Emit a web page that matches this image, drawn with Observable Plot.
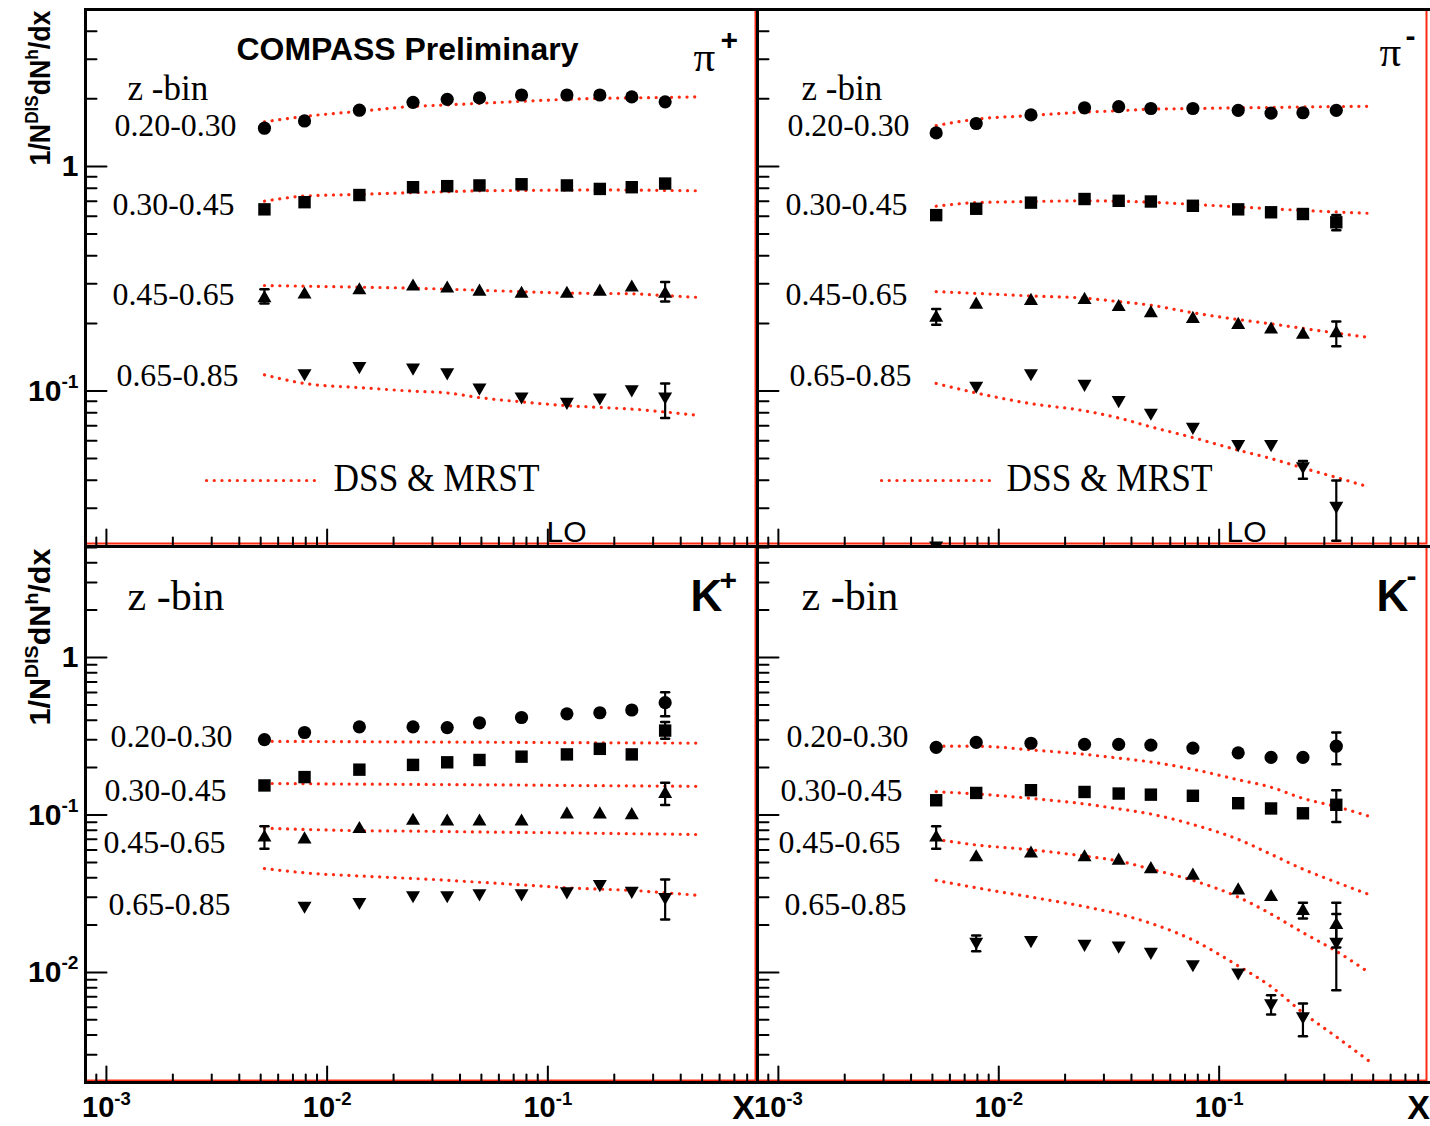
<!DOCTYPE html>
<html>
<head>
<meta charset="utf-8">
<script src="https://cdn.jsdelivr.net/npm/d3@7"></script>
<script src="https://cdn.jsdelivr.net/npm/@observablehq/plot@0.6"></script>
<style>
  html, body { margin: 0; padding: 0; background: #fff; }
  #chart { position: relative; width: 1430px; height: 1126px; overflow: hidden; background: #fff; }
  #chart > svg { position: absolute; }
</style>
</head>
<body>
<div id="chart"></div>
<script>
// ---------------- data ----------------
const xBins = [0.0052, 0.0079, 0.014, 0.0245, 0.035, 0.049, 0.076, 0.122, 0.172, 0.24, 0.34];
const curveX = [0.0052, 0.0079, 0.014, 0.0245, 0.035, 0.049, 0.076, 0.122, 0.172, 0.24, 0.34, 0.48];
const zBins = ["0.20-0.30", "0.30-0.45", "0.45-0.65", "0.65-0.85"];
const xTickValues = [0.001, 0.01, 0.1];

// pi+
const piPlusVals = [
  [1.48, 1.594, 1.78, 1.93, 1.99, 2.02, 2.08, 2.08, 2.08, 2.04, 1.94],
  [0.644, 0.693, 0.746, 0.808, 0.817, 0.823, 0.833, 0.823, 0.794, 0.808, 0.839],
  [0.259, 0.269, 0.281, 0.292, 0.286, 0.277, 0.271, 0.271, 0.277, 0.289, 0.271],
  [null, 0.120, 0.129, 0.127, 0.121, 0.1035, 0.0945, 0.0894, 0.0935, 0.1017, 0.0945]
];
const piPlusDSS = [
  [1.58, 1.67, 1.76, 1.85, 1.88, 1.91, 1.95, 1.99, 2.01, 2.02, 2.03, 2.04],
  [0.70, 0.738, 0.751, 0.765, 0.772, 0.779, 0.782, 0.785, 0.786, 0.785, 0.782, 0.779],
  [0.295, 0.293, 0.290, 0.287, 0.284, 0.281, 0.277, 0.273, 0.272, 0.271, 0.266, 0.261],
  [0.118, 0.108, 0.1035, 0.0998, 0.098, 0.0934, 0.0894, 0.086, 0.0845, 0.083, 0.0806, 0.0778]
];
const piPlusErr = [[2, 0, 0.284, 0.245], [2, 10, 0.306, 0.25], [3, 10, 0.108, 0.0757]];

// pi-
const piMinusVals = [
  [1.41, 1.553, 1.696, 1.825, 1.846, 1.812, 1.812, 1.778, 1.727, 1.734, 1.778],
  [0.607, 0.648, 0.690, 0.716, 0.703, 0.698, 0.668, 0.644, 0.625, 0.614, 0.564],
  [0.212, 0.2425, 0.252, 0.2545, 0.2365, 0.222, 0.2095, 0.197, 0.1877, 0.178, 0.181],
  [0.0205, 0.1055, 0.12, 0.1075, 0.091, 0.080, 0.0692, 0.058, 0.058, 0.0462, 0.0308]
];
const piMinusDSS = [
  [1.52, 1.623, 1.685, 1.747, 1.77, 1.80, 1.81, 1.825, 1.83, 1.84, 1.848, 1.853],
  [0.665, 0.690, 0.698, 0.703, 0.700, 0.693, 0.678, 0.66, 0.648, 0.637, 0.627, 0.618],
  [0.277, 0.272, 0.265, 0.259, 0.25, 0.241, 0.223, 0.208, 0.199, 0.19, 0.181, 0.173],
  [0.108, 0.098, 0.0878, 0.0816, 0.0758, 0.0692, 0.062, 0.0545, 0.050, 0.0454, 0.0412, 0.0373]
];
const piMinusErr = [[1, 10, 0.607, 0.52], [2, 0, 0.232, 0.197], [2, 10, 0.204, 0.158], [3, 9, 0.0488, 0.0406], [3, 10, 0.0399, 0.0215]];

// K+
const kPlusVals = [
  [0.301, 0.334, 0.363, 0.363, 0.359, 0.385, 0.416, 0.439, 0.446, 0.464, 0.517],
  [0.154, 0.174, 0.194, 0.208, 0.216, 0.2235, 0.2346, 0.2425, 0.263, 0.2425, 0.3435],
  [0.0719, 0.070, 0.0815, 0.0919, 0.0909, 0.0909, 0.0909, 0.1008, 0.1008, 0.0997, 0.136],
  [null, 0.02654, 0.028, 0.0309, 0.0309, 0.0318, 0.0318, 0.0327, 0.0364, 0.033, 0.0301]
];
const kPlusDSS = [
  [0.2935, 0.293, 0.292, 0.291, 0.2905, 0.29, 0.289, 0.288, 0.2875, 0.287, 0.2865, 0.286],
  [0.1585, 0.158, 0.157, 0.1565, 0.156, 0.1555, 0.155, 0.154, 0.1535, 0.153, 0.1525, 0.152],
  [0.0824, 0.081, 0.0795, 0.079, 0.0785, 0.078, 0.0775, 0.077, 0.0765, 0.076, 0.0757, 0.0751],
  [0.0457, 0.0429, 0.041, 0.0395, 0.0385, 0.0374, 0.036, 0.0345, 0.0338, 0.0332, 0.032, 0.0309]
];
const kPlusErr = [[0, 10, 0.602, 0.423], [1, 10, 0.39, 0.305], [2, 0, 0.0847, 0.061], [2, 10, 0.16, 0.1156], [3, 10, 0.0389, 0.0217]];

// K-
const kMinusVals = [
  [0.269, 0.289, 0.2855, 0.281, 0.281, 0.278, 0.266, 0.248, 0.232, 0.232, 0.2733],
  [0.124, 0.138, 0.1437, 0.140, 0.1368, 0.1346, 0.1324, 0.1188, 0.110, 0.1025, 0.116],
  [0.0719, 0.0539, 0.0569, 0.0539, 0.0513, 0.0453, 0.0412, 0.0332, 0.0301, 0.0246, 0.0200],
  [null, 0.01564, 0.01606, 0.0152, 0.0148, 0.0135, 0.01127, 0.0100, 0.00636, 0.00526, 0.01564]
];
const kMinusDSS = [
  [0.2733, 0.2733, 0.259, 0.2425, 0.2296, 0.217, 0.195, 0.1674, 0.150, 0.1274, 0.113, 0.098],
  [0.1406, 0.136, 0.1274, 0.1175, 0.1094, 0.1014, 0.087, 0.070, 0.0563, 0.0453, 0.0374, 0.0312],
  [0.070, 0.0645, 0.0601, 0.0548, 0.051, 0.0453, 0.0384, 0.0301, 0.0235, 0.0179, 0.01364, 0.00995],
  [0.0384, 0.0345, 0.0301, 0.0262, 0.0235, 0.0205, 0.01606, 0.011, 0.00813, 0.00555, 0.0039, 0.00273]
];
const kMinusErr = [[0, 10, 0.334, 0.21], [1, 10, 0.1437, 0.0904], [2, 0, 0.0847, 0.061], [2, 9, 0.0277, 0.022],
  [2, 10, 0.0277, 0.0144], [3, 1, 0.01715, 0.01364], [3, 8, 0.00717, 0.0054], [3, 9, 0.00636, 0.00394], [3, 10, 0.0235, 0.0077]];

// ---------------- helpers ----------------
const RED = "#ff2a12";
const SERIF = "'Liberation Serif', 'Times New Roman', Times, serif";
const SANS = "'Liberation Sans', Arial, Helvetica, sans-serif";
const DOTS = "0.1 7.6";

const seg = { draw(ctx, l) { ctx.moveTo(0, 0); ctx.lineTo(0, -l); } };
const SQ3 = Math.sqrt(3);
const triDown = { draw(ctx, size) {
  const y = -Math.sqrt(size / (SQ3 * 3));
  ctx.moveTo(0, -y * 2); ctx.lineTo(-SQ3 * y, y); ctx.lineTo(SQ3 * y, y); ctx.closePath();
} };
const symbols = ["circle", "square", "triangle", triDown];
const radii = [6.6, 7.0, 5.2, 5.2];

function pointTable(vals) {
  const out = [];
  vals.forEach((arr, z) => arr.forEach((v, i) => { if (v != null) out.push({x: xBins[i], y: v, z}); }));
  return out;
}
function curveTable(vals) {
  const out = [];
  vals.forEach((arr, z) => arr.forEach((v, i) => out.push({x: curveX[i], y: v, z})));
  return out;
}
function errTable(errs) {
  return errs.map(([z, i, hi, lo]) => ({x: xBins[i], lo, hi, z}));
}
function decadeTicks(lo, hi, ks) {
  const out = [];
  for (let e = -5; e <= 1; e++) for (const k of ks) {
    const v = +(k * Math.pow(10, e)).toPrecision(6);
    if (v >= lo && v <= hi) out.push(v);
  }
  return out;
}
const fmt = d => { const e = Math.round(Math.log10(d)); return e === 0 ? "1" : `10^${e}`; };

const xDomain = [0.000804, 0.891];
const cols = [
  {left: 0, width: 757, mL: 85, mR: 0},
  {left: 757, width: 673, mL: 0, mR: 2}
];
const rows = [
  {top: 0, height: 545, mT: 9, mB: 0, yDomain: [0.0205, 5.0], yMajor: [0.1, 1]},
  {top: 545, height: 581, mT: 1, mB: 44, yDomain: [0.002, 5.07], yMajor: [0.01, 0.1, 1]}
];

const panels = [
  {row: 0, col: 0, vals: piPlusVals, dss: piPlusDSS, err: piPlusErr, base: "π", sign: "+", baseFont: SERIF, baseSize: 43, baseWeight: "normal",
   baseDx: -64, baseDy: 61, signDx: -37, signDy: 31, zOff: [29, 27, 27, 31], zDy: [116, 195, 285, 366]},
  {row: 0, col: 1, vals: piMinusVals, dss: piMinusDSS, err: piMinusErr, base: "π", sign: "-", baseFont: SERIF, baseSize: 43, baseWeight: "normal",
   baseDx: -49, baseDy: 56, signDx: -23, signDy: 27, zOff: [30, 28, 28, 32], zDy: [116, 195, 285, 366]},
  {row: 1, col: 0, vals: kPlusVals, dss: kPlusDSS, err: kPlusErr, base: "K", sign: "+", baseFont: SANS, baseSize: 44, baseWeight: "bold",
   baseDx: -67, baseDy: 64, signDx: -38, signDy: 34, zOff: [25, 19, 18, 23], zDy: [190, 244, 296, 358]},
  {row: 1, col: 1, vals: kMinusVals, dss: kMinusDSS, err: kMinusErr, base: "K", sign: "-", baseFont: SANS, baseSize: 44, baseWeight: "bold",
   baseDx: -52, baseDy: 64, signDx: -22, signDy: 30, zOff: [29, 23, 21, 27], zDy: [190, 244, 296, 358]}
];

function fitAndSup(svg, widths) {
  svg.querySelectorAll("text").forEach(t => {
    if (t.querySelector("tspan")) return;
    const s = t.textContent;
    const w = widths[s];
    if (s.includes("^")) {
      const fs = parseFloat(getComputedStyle(t).fontSize) || 16;
      const re = /\^\{([^}]*)\}|\^(-?\d+)|([^^]+)/g;
      const parts = []; let m;
      while ((m = re.exec(s))) parts.push(m[3] != null ? {t: m[3], sup: false} : {t: m[1] != null ? m[1] : m[2], sup: true});
      t.textContent = "";
      let up = false;
      for (const p of parts) {
        const ts = document.createElementNS("http://www.w3.org/2000/svg", "tspan");
        ts.textContent = p.t;
        if (p.sup) { ts.setAttribute("dy", (-0.42 * fs).toFixed(2)); ts.setAttribute("font-size", (0.64 * fs).toFixed(2)); up = true; }
        else if (up) { ts.setAttribute("dy", (0.42 * fs).toFixed(2)); up = false; }
        t.appendChild(ts);
      }
    }
    if (w) { t.setAttribute("textLength", w); t.setAttribute("lengthAdjust", "spacingAndGlyphs"); }
  });
}

const chart = document.getElementById("chart");

for (const p of panels) {
  const C = cols[p.col], R = rows[p.row];
  const pts = pointTable(p.vals);
  const curves = curveTable(p.dss);
  const errs = errTable(p.err);
  const yMinor = decadeTicks(R.yDomain[0], R.yDomain[1], [2, 3, 4, 5, 6, 7, 8, 9]);
  const xMinor = decadeTicks(xDomain[0], xDomain[1], [2, 3, 4, 5, 6, 7, 8, 9]);

  const marks = [
    Plot.frame({stroke: RED, strokeWidth: 2, insetRight: 2, insetBottom: 2}),
    Plot.frame({anchor: "top", stroke: "black", strokeWidth: 3}),
    Plot.frame({anchor: "left", stroke: "black", strokeWidth: 3}),
  ];
  if (p.row === 1) marks.push(Plot.frame({anchor: "bottom", stroke: "black", strokeWidth: 3}));

  // ticks (inside the frame)
  marks.push(
    Plot.vector(R.yMajor, {y: d => d, frameAnchor: "left", rotate: 90, anchor: "start", length: 21, shape: seg, stroke: "black", strokeWidth: 2}),
    Plot.vector(yMinor, {y: d => d, frameAnchor: "left", rotate: 90, anchor: "start", length: 11, shape: seg, stroke: "black", strokeWidth: 2}),
    Plot.vector(xTickValues, {x: d => d, frameAnchor: "bottom", anchor: "start", length: 16, shape: seg, stroke: "black", strokeWidth: 2}),
    Plot.vector(xMinor, {x: d => d, frameAnchor: "bottom", anchor: "start", length: 8, shape: seg, stroke: "black", strokeWidth: 2})
  );

  // theory curves
  marks.push(Plot.line(curves, {x: "x", y: "y", z: "z", stroke: RED, strokeWidth: 3.2, strokeDasharray: DOTS,
    strokeLinecap: "round", curve: "monotone-x", clip: true}));

  // error bars
  marks.push(
    Plot.ruleX(errs, {x: "x", y1: "lo", y2: "hi", stroke: "black", strokeWidth: 2.2, clip: true}),
    Plot.vector(errs, {x: "x", y: "lo", rotate: 90, anchor: "middle", length: 8, shape: seg, stroke: "black", strokeWidth: 2.5}),
    Plot.vector(errs, {x: "x", y: "hi", rotate: 90, anchor: "middle", length: 8, shape: seg, stroke: "black", strokeWidth: 2.5})
  );

  // markers
  for (let z = 0; z < 4; z++) {
    marks.push(Plot.dot(pts.filter(d => d.z === z), {x: "x", y: "y", symbol: symbols[z], r: radii[z], fill: "black", stroke: "none", clip: true}));
  }

  // annotations
  if (p.row === 0) {
    marks.push(Plot.text(["z -bin"], {frameAnchor: "top-left", dx: p.col === 0 ? 42 : 44, dy: 90, textAnchor: "start", lineAnchor: "bottom",
      fontFamily: SERIF, fontSize: 35}));
  } else {
    marks.push(Plot.text(["z -bin"], {frameAnchor: "top-left", dx: p.col === 0 ? 42 : 44, dy: 63, textAnchor: "start", lineAnchor: "bottom",
      fontFamily: SERIF, fontSize: 42}));
  }
  zBins.forEach((zb, i) => {
    marks.push(Plot.text([zb], {frameAnchor: "top-left", dx: p.zOff[i], dy: p.zDy[i], textAnchor: "start", lineAnchor: "middle",
      fontFamily: SERIF, fontSize: 32}));
  });
  marks.push(
    Plot.text([p.base], {frameAnchor: "top-right", dx: p.baseDx, dy: p.baseDy, textAnchor: "start", lineAnchor: "bottom",
      fontFamily: p.baseFont, fontSize: p.baseSize, fontWeight: p.baseWeight}),
    Plot.text([p.sign], {frameAnchor: "top-right", dx: p.signDx, dy: p.signDy, textAnchor: "start", lineAnchor: "middle",
      fontFamily: SANS, fontSize: 30, fontWeight: "bold"})
  );
  if (p.row === 0) {
    // legend + LO
    const lx = p.col === 0 ? 121 : 124, tx = p.col === 0 ? 248 : 249;
    marks.push(
      Plot.vector([0], {frameAnchor: "top-left", dx: lx, dy: 471, rotate: 90, anchor: "start", length: 113, shape: seg,
        stroke: RED, strokeWidth: 3.2, strokeDasharray: DOTS, strokeLinecap: "round"}),
      Plot.text(["DSS & MRST"], {frameAnchor: "top-left", dx: tx, dy: 469, textAnchor: "start", lineAnchor: "middle",
        fontFamily: SERIF, fontSize: 40}),
      Plot.text(["LO"], {frameAnchor: "bottom-left", dx: p.col === 0 ? 461 : 469, dy: -4, textAnchor: "start", lineAnchor: "bottom",
        fontFamily: SANS, fontSize: 30})
    );
    if (p.col === 0) {
      marks.push(Plot.text(["COMPASS Preliminary"], {frameAnchor: "top-left", dx: 151, dy: 40, textAnchor: "start", lineAnchor: "middle",
        fontFamily: SANS, fontSize: 32, fontWeight: "bold"}));
    }
  }
  if (p.col === 0) {
    marks.push(
      Plot.axisY({ticks: R.yMajor, tickFormat: fmt, tickSize: 0, tickPadding: 7, fontSize: 30, fontWeight: "bold", fontFamily: SANS, label: null}),
      Plot.text(["1/N^{DIS}dN^{h}/dx"], {frameAnchor: "top-left", dx: -45, dy: p.row === 0 ? 1 : 2, rotate: -90, textAnchor: "end", lineAnchor: "middle",
        fontFamily: SANS, fontSize: 30, fontWeight: "bold"})
    );
  }
  if (p.row === 1) {
    marks.push(
      Plot.axisX({ticks: xTickValues, tickFormat: fmt, tickSize: 0, tickPadding: 14, fontSize: 29, fontWeight: "bold", fontFamily: SANS, label: null}),
      Plot.text(["X"], {frameAnchor: "bottom-right", dx: p.col === 0 ? -14 : -10, dy: 36, textAnchor: "middle", lineAnchor: "bottom",
        fontFamily: SANS, fontSize: 34, fontWeight: "bold"})
    );
  }

  const svg = Plot.plot({
    width: C.width, height: R.height,
    marginLeft: C.mL, marginRight: C.mR, marginTop: R.mT, marginBottom: R.mB,
    x: {type: "log", domain: xDomain, axis: null},
    y: {type: "log", domain: R.yDomain, axis: null},
    style: {background: "transparent", overflow: "visible", maxWidth: "none"},
    marks
  });
  svg.style.left = C.left + "px";
  svg.style.top = R.top + "px";
  chart.appendChild(svg);

  const widths = {"DSS & MRST": 206, "COMPASS Preliminary": 342,
    "1/N^{DIS}dN^{h}/dx": p.row === 0 ? 155 : 177};
  zBins.forEach(z => widths[z] = 122);
  fitAndSup(svg, widths);
}
</script>
</body>
</html>
